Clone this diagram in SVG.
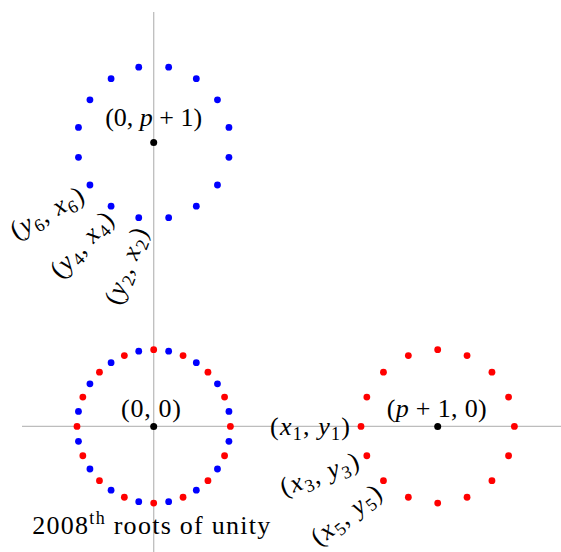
<svg xmlns="http://www.w3.org/2000/svg" xmlns:xlink="http://www.w3.org/1999/xlink" width="561" height="552" viewBox="0 0 561 552">
<style>
.axis{stroke:#bdbdbd;stroke-width:1.3;fill:none}
.lbl{font-size:26px;fill:#000}
.it{font-style:italic}
.sub{font-size:18px}
.red{fill:#ff0000}
.blue{fill:#0000ff}
.ctr{fill:#000}
</style>
<defs>
<g id="redring" class="red">
<circle cx="76.7" cy="0" r="3.4"/><circle cx="70.86" cy="29.35" r="3.4"/><circle cx="54.24" cy="54.24" r="3.4"/><circle cx="29.35" cy="70.86" r="3.4"/>
<circle cx="0" cy="76.7" r="3.4"/><circle cx="-29.35" cy="70.86" r="3.4"/><circle cx="-54.24" cy="54.24" r="3.4"/><circle cx="-70.86" cy="29.35" r="3.4"/>
<circle cx="-76.7" cy="0" r="3.4"/><circle cx="-70.86" cy="-29.35" r="3.4"/><circle cx="-54.24" cy="-54.24" r="3.4"/><circle cx="-29.35" cy="-70.86" r="3.4"/>
<circle cx="0" cy="-76.7" r="3.4"/><circle cx="29.35" cy="-70.86" r="3.4"/><circle cx="54.24" cy="-54.24" r="3.4"/><circle cx="70.86" cy="-29.35" r="3.4"/>
</g>
<g id="bluering" class="blue">
<circle cx="75.23" cy="14.96" r="3.4"/><circle cx="63.77" cy="42.61" r="3.4"/><circle cx="42.61" cy="63.77" r="3.4"/><circle cx="14.96" cy="75.23" r="3.4"/>
<circle cx="-14.96" cy="75.23" r="3.4"/><circle cx="-42.61" cy="63.77" r="3.4"/><circle cx="-63.77" cy="42.61" r="3.4"/><circle cx="-75.23" cy="14.96" r="3.4"/>
<circle cx="-75.23" cy="-14.96" r="3.4"/><circle cx="-63.77" cy="-42.61" r="3.4"/><circle cx="-42.61" cy="-63.77" r="3.4"/><circle cx="-14.96" cy="-75.23" r="3.4"/>
<circle cx="14.96" cy="-75.23" r="3.4"/><circle cx="42.61" cy="-63.77" r="3.4"/><circle cx="63.77" cy="-42.61" r="3.4"/><circle cx="75.23" cy="-14.96" r="3.4"/>
</g>
</defs>
<rect width="561" height="552" fill="#ffffff"/>
<g id="axes">
<line class="axis" x1="153.7" y1="12" x2="153.7" y2="552"/>
<line class="axis" x1="22" y1="426.4" x2="561" y2="426.4"/>
</g>
<g id="ring-top">
<use xlink:href="#bluering" transform="translate(153.7,142.4)"/>
<circle class="ctr" cx="153.7" cy="142.4" r="3.5"/>
</g>
<g id="ring-origin">
<use xlink:href="#redring" transform="translate(153.7,426.4)"/>
<use xlink:href="#bluering" transform="translate(153.7,426.4)"/>
<circle class="ctr" cx="153.7" cy="426.4" r="3.5"/>
</g>
<g id="ring-right">
<use xlink:href="#redring" transform="translate(437.7,426.4)"/>
<circle class="ctr" cx="437.7" cy="426.4" r="3.5"/>
</g>
<g id="labels" font-family="Liberation Serif, DejaVu Serif, serif">
<text class="lbl" x="153.7" y="126" text-anchor="middle" textLength="97" lengthAdjust="spacing">(0, <tspan class="it">p</tspan> + 1)</text>
<text class="lbl" x="151" y="416.5" text-anchor="middle" textLength="60" lengthAdjust="spacing">(0, 0)</text>
<text class="lbl" x="436.7" y="416.5" text-anchor="middle" textLength="100" lengthAdjust="spacing">(<tspan class="it">p</tspan> + 1, 0)</text>
<text class="lbl" x="310" y="434.5" text-anchor="middle" textLength="80" lengthAdjust="spacing">(<tspan class="it">x</tspan><tspan class="sub" dy="5">1</tspan><tspan dy="-5">, </tspan><tspan class="it">y</tspan><tspan class="sub" dy="5">1</tspan><tspan dy="-5">)</tspan></text>
<text class="lbl" text-anchor="middle" textLength="82" lengthAdjust="spacing" transform="translate(322.4,482.1) rotate(-20)">(<tspan class="it">x</tspan><tspan class="sub" dy="5">3</tspan><tspan dy="-5">, </tspan><tspan class="it">y</tspan><tspan class="sub" dy="5">3</tspan><tspan dy="-5">)</tspan></text>
<text class="lbl" text-anchor="middle" textLength="82" lengthAdjust="spacing" transform="translate(351.3,521.6) rotate(-38)">(<tspan class="it">x</tspan><tspan class="sub" dy="5">5</tspan><tspan dy="-5">, </tspan><tspan class="it">y</tspan><tspan class="sub" dy="5">5</tspan><tspan dy="-5">)</tspan></text>
<text class="lbl" text-anchor="middle" textLength="80" lengthAdjust="spacing" transform="translate(134.1,268.9) rotate(-69)">(<tspan class="it">y</tspan><tspan class="sub" dy="5">2</tspan><tspan dy="-5">, </tspan><tspan class="it">x</tspan><tspan class="sub" dy="5">2</tspan><tspan dy="-5">)</tspan></text>
<text class="lbl" text-anchor="middle" textLength="80" lengthAdjust="spacing" transform="translate(87.9,250.3) rotate(-47)">(<tspan class="it">y</tspan><tspan class="sub" dy="5">4</tspan><tspan dy="-5">, </tspan><tspan class="it">x</tspan><tspan class="sub" dy="5">4</tspan><tspan dy="-5">)</tspan></text>
<text class="lbl" text-anchor="middle" textLength="80" lengthAdjust="spacing" transform="translate(51,220) rotate(-29)">(<tspan class="it">y</tspan><tspan class="sub" dy="5">6</tspan><tspan dy="-5">, </tspan><tspan class="it">x</tspan><tspan class="sub" dy="5">6</tspan><tspan dy="-5">)</tspan></text>
<text class="lbl" x="32.3" y="534" textLength="238" lengthAdjust="spacing">2008<tspan class="sub" dy="-10">th</tspan><tspan dy="10"> roots of unity</tspan></text>
</g>
</svg>
